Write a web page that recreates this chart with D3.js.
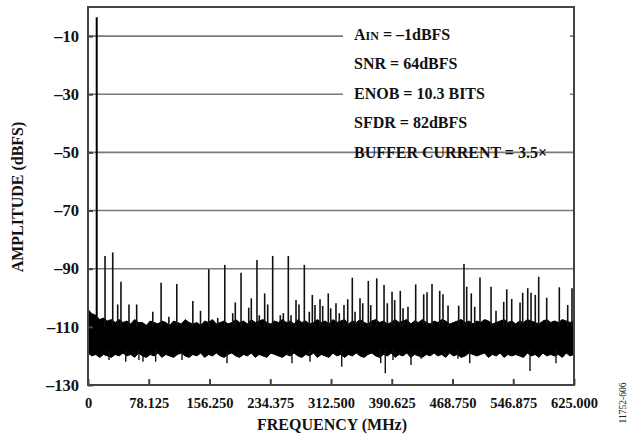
<!DOCTYPE html>
<html>
<head>
<meta charset="utf-8">
<script src="https://cdn.jsdelivr.net/npm/d3@7"></script>
<style>
  html, body { margin: 0; padding: 0; background: #fff; }
  svg text { font-family: "Liberation Serif", "Times New Roman", serif; }
</style>
</head>
<body>
<svg id="chart" width="630" height="439"></svg>
<script>
// FFT spectrum: single-tone input, 625 MHz Nyquist span

// Fundamental tone [MHz, dBFS]
const fundamental = [11.2, -3.5];

// Spurious tones [MHz, dBFS]
const spurFreq = [21.9, 31.8, 38.2, 42.4, 52.7, 62.6, 83.3, 94.0, 104.0, 114.2,
  134.8, 144.7, 155.3, 166.8, 175.9, 186.1, 189.4, 196.8, 206.7, 210.0,
  217.3, 220.3, 227.2, 231.1, 237.5, 247.3, 251.2, 257.6, 261.1, 267.5,
  271.3, 278.2, 284.6, 288.5, 291.9, 298.4, 301.8, 309.0, 312.1, 318.9,
  323.2, 329.2, 334.0, 339.9, 343.4, 349.8, 353.3, 360.5, 363.6, 371.3,
  380.7, 384.9, 391.0, 394.4, 401.6, 405.1, 411.5, 421.4, 431.7, 436.0,
  442.4, 452.3, 456.5, 463.0, 476.7, 483.5, 487.0, 492.9, 497.3, 504.1,
  518.3, 524.7, 534.6, 538.5, 544.9, 555.6, 559.0, 565.5, 569.7, 575.2,
  579.6, 589.9, 606.1, 616.9, 622.4];
const spurLevel = [-85.6, -84.4, -102.3, -94.5, -102.3, -102.3, -104.8, -94.8, -106.5, -95.3,
  -101.1, -104.5, -90.2, -106.9, -88.7, -105.3, -101.6, -91.4, -103.4, -100.2,
  -87.0, -106.0, -98.5, -102.3, -85.6, -106.0, -105.3, -85.6, -106.0, -100.8,
  -102.3, -88.7, -104.8, -99.0, -102.5, -100.5, -102.8, -98.5, -103.6, -101.9,
  -105.3, -102.5, -100.5, -93.1, -104.8, -100.2, -101.9, -94.2, -102.5, -93.3,
  -95.6, -101.9, -97.9, -100.8, -97.6, -103.6, -103.1, -95.4, -98.8, -98.1,
  -95.3, -97.6, -98.8, -102.7, -102.7, -88.4, -96.2, -98.5, -103.1, -93.0,
  -96.2, -104.5, -101.4, -97.1, -100.4, -101.6, -98.3, -96.7, -98.3, -99.0,
  -92.8, -100.0, -96.4, -102.5, -96.7];

// Deep noise excursions below the floor [MHz, dBFS]
const dipFreq = [27.0, 48.5, 65.5, 70.7, 87.0, 120.9, 178.8, 262.3, 285.5, 326.3,
  376.4, 382.3, 392.2, 415.4, 428.2, 475.8, 490.9, 568.4, 601.8];
const dipLevel = [-121.4, -122.0, -121.4, -122.0, -122.0, -121.4, -122.5, -122.5, -122.0, -123.7,
  -122.5, -126.0, -121.4, -123.1, -121.0, -121.0, -122.5, -125.2, -122.5];

// Noise floor envelope, one value every 5 MHz from 0 to 625 MHz
const floorStep = 5;
const floorTop = [
  -104.0, -105.5, -106.0, -107.5, -107.0, -108.0, -107.5, -108.5, -107.5, -108.5,
  -108.0, -109.0, -107.5, -108.5, -108.5, -109.5, -108.0, -108.5, -109.0, -108.0,
  -108.5, -109.5, -108.0, -108.5, -109.0, -107.5, -108.5, -109.0, -108.5, -109.5,
  -108.0, -108.5, -107.5, -109.0, -108.5, -108.0, -109.0, -108.5, -107.5, -108.5,
  -108.0, -109.0, -107.5, -108.5, -108.0, -107.5, -108.5, -109.0, -108.0, -108.5,
  -107.5, -108.5, -108.0, -109.0, -107.5, -108.5, -108.0, -109.0, -108.5, -107.5,
  -108.5, -108.0, -109.0, -107.5, -108.5, -108.0, -107.5, -109.0, -108.0, -108.5,
  -107.5, -108.5, -109.0, -108.0, -107.5, -108.5, -108.0, -109.0, -108.5, -107.5,
  -108.5, -108.0, -107.5, -109.0, -108.0, -108.5, -107.5, -108.5, -109.0, -108.0,
  -108.5, -107.5, -108.0, -109.0, -108.5, -108.0, -107.5, -108.5, -108.0, -109.0,
  -108.0, -108.5, -107.5, -108.0, -109.0, -108.5, -108.0, -107.5, -108.5, -108.0,
  -109.0, -108.0, -108.5, -107.5, -108.0, -108.5, -109.0, -108.0, -107.5, -108.5,
  -108.0, -108.5, -107.5, -108.0, -108.5, -108.0];
const floorBottom = [
  -119.0, -120.0, -119.5, -120.5, -119.5, -120.0, -120.5, -119.5, -120.0, -119.0,
  -120.0, -119.5, -120.5, -119.0, -120.0, -120.5, -119.5, -120.0, -119.0, -120.5,
  -119.5, -120.0, -120.5, -119.5, -119.0, -120.0, -120.5, -119.5, -120.0, -119.0,
  -120.5, -119.5, -120.0, -119.0, -120.0, -120.5, -119.5, -119.0, -120.0, -120.5,
  -119.5, -120.0, -119.0, -120.5, -119.5, -120.0, -120.5, -119.0, -119.5, -120.0,
  -120.5, -119.5, -120.0, -119.0, -120.0, -120.5, -119.5, -120.0, -119.0, -120.5,
  -119.5, -120.0, -120.5, -119.0, -120.0, -119.5, -120.5, -119.5, -120.0, -119.0,
  -120.0, -120.5, -119.5, -119.0, -120.0, -120.5, -119.5, -120.0, -119.0, -120.5,
  -119.5, -120.0, -119.0, -120.5, -119.5, -120.0, -120.5, -119.5, -120.0, -119.0,
  -120.0, -119.5, -120.5, -119.0, -120.0, -119.5, -120.5, -120.0, -119.0, -119.5,
  -120.0, -119.5, -119.0, -120.5, -119.5, -120.0, -119.0, -120.5, -119.5, -120.0,
  -119.5, -120.0, -120.5, -119.0, -120.0, -119.5, -120.5, -119.0, -120.0, -119.5,
  -120.0, -119.5, -120.5, -119.0, -120.0, -119.5];

// Axes
const xTicks = [0, 78.125, 156.25, 234.375, 312.5, 390.625, 468.75, 546.875, 625];
const xTickLabels = ["0", "78.125", "156.250", "234.375", "312.500", "390.625", "468.750", "546.875", "625.000"];
const yTicks = [-10, -30, -50, -70, -90, -110, -130];
const yTickLabels = ["–10", "–30", "–50", "–70", "–90", "–110", "–130"];
const gridLevels = [-10, -30, -50, -70, -90];

// Annotation block
const notes = [
  { main: "A", sub: "IN", rest: " = –1dBFS" },
  { main: "SNR = 64dBFS" },
  { main: "ENOB = 10.3 BITS" },
  { main: "SFDR = 82dBFS" },
  { main: "BUFFER CURRENT = 3.5×" }
];

const svg = d3.select("#chart");
const plotLeft = 88, plotRight = 574, plotTop = 7, plotBottom = 385;

const x = d3.scaleLinear().domain([0, 625]).range([plotLeft, plotRight]);
const y = d3.scaleLinear().domain([-130, 0]).range([plotBottom, plotTop]);

// Horizontal grid
svg.append("g")
  .selectAll("line")
  .data(gridLevels)
  .join("line")
  .attr("x1", plotLeft).attr("x2", plotRight)
  .attr("y1", d => y(d)).attr("y2", d => y(d))
  .attr("stroke", "#7a7a7a")
  .attr("stroke-width", 1.6);

// Blank panel behind the upper annotation lines
svg.append("rect")
  .attr("x", 343).attr("y", 22)
  .attr("width", 227).attr("height", 118)
  .attr("fill", "#fff");

// Noise floor band
const floor = floorTop.map((t, i) => ({ f: i * floorStep, hi: t, lo: floorBottom[i] }));
svg.append("path")
  .datum(floor)
  .attr("d", d3.area().x(d => x(d.f)).y0(d => y(d.lo)).y1(d => y(d.hi)))
  .attr("fill", "#000")
  .attr("stroke", "#000")
  .attr("stroke-width", 1);

// Downward noise excursions
svg.append("g")
  .selectAll("line")
  .data(dipFreq.map((f, i) => [f, dipLevel[i]]))
  .join("line")
  .attr("x1", d => x(d[0])).attr("x2", d => x(d[0]))
  .attr("y1", y(-118)).attr("y2", d => y(d[1]))
  .attr("stroke", "#111").attr("stroke-width", 1.4);

// Spurs
svg.append("g")
  .selectAll("line")
  .data(spurFreq.map((f, i) => [f, spurLevel[i]]))
  .join("line")
  .attr("x1", d => x(d[0])).attr("x2", d => x(d[0]))
  .attr("y1", y(-110)).attr("y2", d => y(d[1]))
  .attr("stroke", "#111").attr("stroke-width", 1.6);

// Fundamental
svg.append("line")
  .attr("x1", x(fundamental[0])).attr("x2", x(fundamental[0]))
  .attr("y1", y(-110)).attr("y2", y(fundamental[1]))
  .attr("stroke", "#000").attr("stroke-width", 2);

// Frame
svg.append("rect")
  .attr("x", plotLeft).attr("y", plotTop)
  .attr("width", plotRight - plotLeft).attr("height", plotBottom - plotTop)
  .attr("fill", "none")
  .attr("stroke", "#444").attr("stroke-width", 2);

// X axis (inward ticks)
const xAxis = svg.append("g")
  .attr("transform", `translate(0,${plotBottom})`)
  .call(d3.axisBottom(x).tickValues(xTicks)
    .tickFormat((d, i) => xTickLabels[i])
    .tickSizeInner(-6).tickSizeOuter(0).tickPadding(13));
xAxis.select(".domain").remove();
xAxis.selectAll(".tick line").attr("stroke", "#444").attr("stroke-width", 2);
xAxis.selectAll("text")
  .attr("font-size", 14.5).attr("font-weight", "bold").attr("fill", "#111")
  .style("font-family", "'Liberation Serif', serif");

// Y axis (inward ticks)
const yAxis = svg.append("g")
  .attr("transform", `translate(${plotLeft},0)`)
  .call(d3.axisLeft(y).tickValues(yTicks)
    .tickFormat((d, i) => yTickLabels[i])
    .tickSizeInner(-5).tickSizeOuter(0).tickPadding(9));
yAxis.select(".domain").remove();
yAxis.selectAll(".tick line").attr("stroke", "#444").attr("stroke-width", 2);
yAxis.selectAll("text")
  .attr("font-size", 16.5).attr("font-weight", "bold").attr("fill", "#111")
  .style("font-family", "'Liberation Serif', serif");

// Axis titles
svg.append("text")
  .attr("x", 332).attr("y", 430)
  .attr("text-anchor", "middle")
  .attr("font-size", 16).attr("font-weight", "bold").attr("fill", "#111")
  .text("FREQUENCY (MHz)");

svg.append("text")
  .attr("transform", "translate(23,197) rotate(-90)")
  .attr("text-anchor", "middle")
  .attr("font-size", 16).attr("font-weight", "bold").attr("fill", "#111")
  .text("AMPLITUDE (dBFS)");

// Figure number
svg.append("text")
  .attr("transform", "translate(626,403) rotate(-90)")
  .attr("text-anchor", "middle")
  .attr("font-size", 9.5).attr("fill", "#222")
  .text("11752-606");

// Annotation text
const noteG = svg.append("g");
notes.forEach((n, i) => {
  const t = noteG.append("text")
    .attr("x", 354).attr("y", 39.5 + i * 29.5)
    .attr("font-size", 16).attr("font-weight", "bold").attr("fill", "#111");
  t.append("tspan").text(n.main);
  if (n.sub) {
    t.append("tspan").attr("font-size", 12).text(n.sub);
    t.append("tspan").text(n.rest);
  }
});
</script>
</body>
</html>
